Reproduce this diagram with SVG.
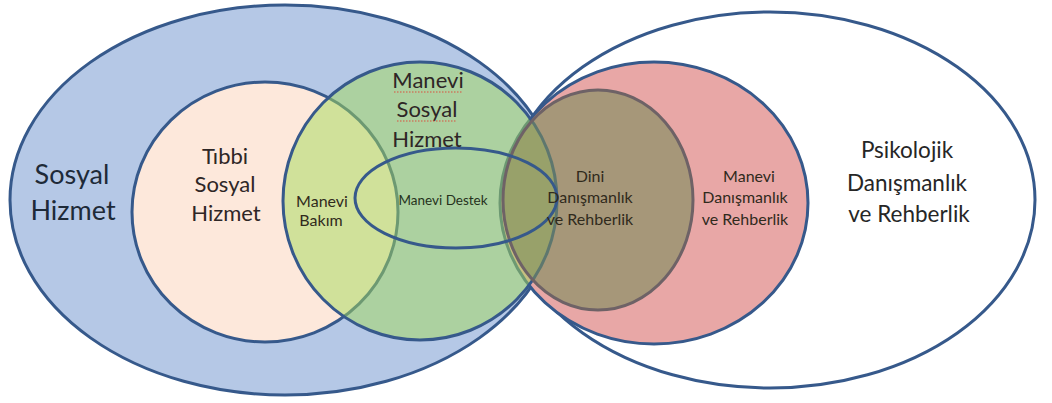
<svg xmlns="http://www.w3.org/2000/svg" width="1052" height="403" viewBox="0 0 1052 403">
<style>
.edge{stroke:#36598b;stroke-width:3;}
.t{font-family:Lato,"Open Sans","Liberation Sans",sans-serif;text-anchor:middle;}
.big{font-size:27px;fill:#1e2a38;}
.mid{font-size:22px;fill:#2e2626;}
.psi{font-size:22.5px;fill:#262626;}
.sm{font-size:16px;fill:#302a1c;}
.xs{font-size:13.5px;fill:#26321c;}
.sq{fill:none;stroke:#d9503f;stroke-width:1;stroke-dasharray:1.5 1.5;}
</style>
<rect width="1052" height="403" fill="#ffffff"/>
<g id="sosyal-hizmet">
<ellipse class="edge" cx="285" cy="200" rx="275" ry="195" fill="#b5c8e6"/>
</g>
<g id="psikolojik">
<ellipse class="edge" cx="770" cy="200" rx="265" ry="188" fill="#ffffff"/>
</g>
<g id="tibbi">
<ellipse class="edge" cx="265" cy="212" rx="133" ry="130" fill="#fde8db"/>
</g>
<g id="manevi-danismanlik">
<ellipse class="edge" cx="654" cy="203" rx="154" ry="141" fill="#e8a7a6"/>
</g>
<g id="manevi-sosyal">
<ellipse cx="420" cy="201" rx="137" ry="139" fill="#a3da5a" fill-opacity="0.5"/>
<ellipse class="edge" cx="420" cy="201" rx="137" ry="139" fill="none"/>
</g>
<g id="dini">
<ellipse cx="598" cy="200" rx="95" ry="110" fill="#7a8c5c" fill-opacity="0.6" stroke="#6e6266" stroke-width="3"/>
</g>
<g id="manevi-destek">
<ellipse class="edge" cx="456" cy="198" rx="101" ry="50" fill="none"/>
</g>
<g id="labels">
<text class="t big" x="72" y="184">Sosyal</text>
<text class="t big" x="73" y="220">Hizmet</text>
<text class="t mid" x="225" y="164">Tıbbi</text>
<text class="t mid" x="225" y="192">Sosyal</text>
<text class="t mid" x="226" y="221">Hizmet</text>
<text class="t mid" x="428" y="88" fill="#1f2c1a">Manevi</text>
<text class="t mid" x="427" y="117" fill="#1f2c1a">Sosyal</text>
<text class="t mid" x="427" y="147" fill="#1f2c1a">Hizmet</text>
<path class="sq" d="M394 92 H463 M397 121 H457"/>
<text class="t sm" x="322" y="207" fill="#28341a">Manevi</text>
<text class="t sm" x="321" y="226" fill="#28341a">Bakım</text>
<text class="t xs" x="443" y="205">Manevi Destek</text>
<text class="t sm" x="590" y="182">Dini</text>
<text class="t sm" x="590" y="203">Danışmanlık</text>
<text class="t sm" x="590" y="225">ve Rehberlik</text>
<text class="t sm" x="749" y="182" fill="#44282a">Manevi</text>
<text class="t sm" x="745" y="203" fill="#44282a">Danışmanlık</text>
<text class="t sm" x="745" y="225" fill="#44282a">ve Rehberlik</text>
<text class="t psi" x="907" y="158">Psikolojik</text>
<text class="t psi" x="907" y="191">Danışmanlık</text>
<text class="t psi" x="909" y="222">ve Rehberlik</text>
</g>
</svg>
